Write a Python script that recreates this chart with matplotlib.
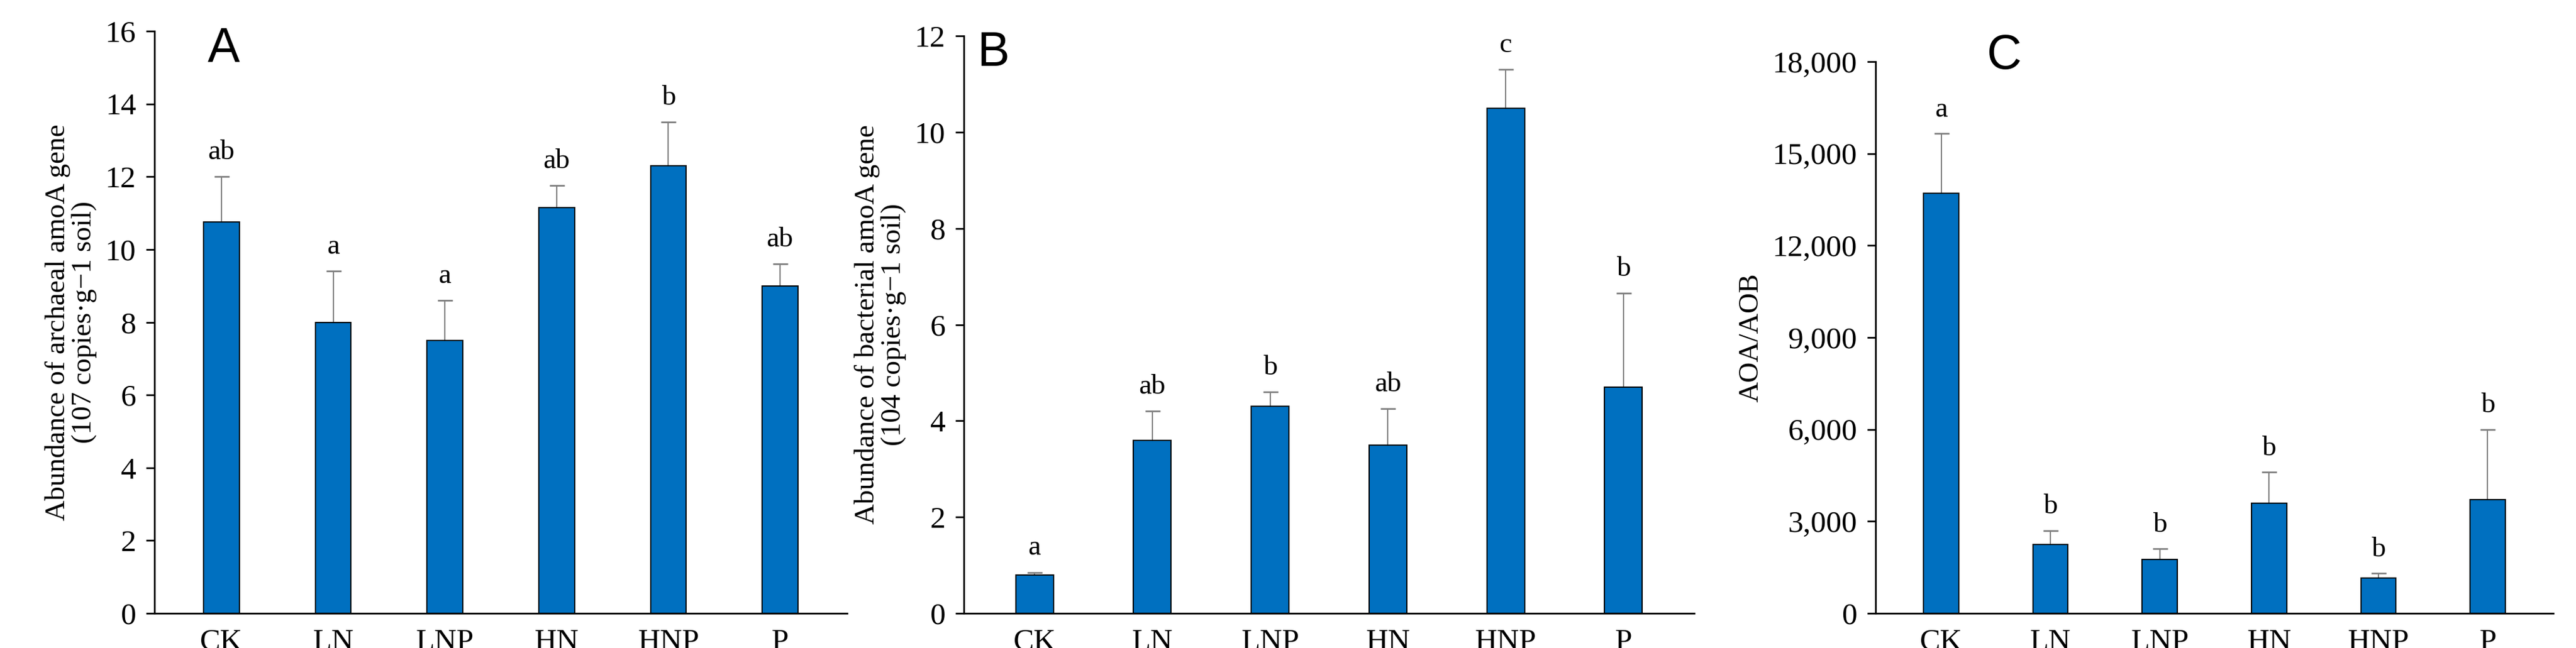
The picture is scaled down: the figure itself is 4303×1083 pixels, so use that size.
import matplotlib
matplotlib.use("Agg")
import matplotlib.pyplot as plt
from matplotlib.ticker import FuncFormatter

treatments = ["CK", "LN", "LNP", "HN", "HNP", "P"]

aoa_mean = [10.75, 8.0, 7.5, 11.15, 12.3, 9.0]
aoa_err = [1.25, 1.4, 1.1, 0.6, 1.2, 0.6]
aoa_sig = ["ab", "a", "a", "ab", "b", "ab"]

aob_mean = [0.8, 3.6, 4.3, 3.5, 10.5, 4.7]
aob_err = [0.05, 0.6, 0.3, 0.75, 0.8, 1.95]
aob_sig = ["a", "ab", "b", "ab", "c", "b"]

ratio_mean = [13700, 2250, 1750, 3600, 1150, 3700]
ratio_err = [1950, 450, 350, 1000, 150, 2300]
ratio_sig = ["a", "b", "b", "b", "b", "b"]

plt.rcParams["font.family"] = ["Liberation Serif", "DejaVu Serif"]
BLUE = "#0070C0"

W, H = 4303, 1083
fig = plt.figure(figsize=(W / 100, H / 100), dpi=100)

panels = [
    # left, right, top px, data, ylim, tick step, ylabel, letter, letter pos
    (258, 1415, 52, aoa_mean, aoa_err, aoa_sig, 16, 2,
     "Abundance of archaeal amoA gene\n(107 copies·g−1 soil)", "A", (0.10, 0.97)),
    (1610, 2830, 60, aob_mean, aob_err, aob_sig, 12, 2,
     "Abundance of bacterial amoA gene\n(104 copies·g−1 soil)", "B", (0.04, 0.97)),
    (3133, 4265, 103, ratio_mean, ratio_err, ratio_sig, 18000, 3000,
     "AOA/AOB", "C", (0.19, 1.01)),
]
bottom = 1025

for left, right, top, mean, err, sig, ymax, step, ylabel, letter, lpos in panels:
    ax = fig.add_axes([left / W, 1 - bottom / H, (right - left) / W, (bottom - top) / H])
    x = range(len(treatments))
    ax.bar(x, mean, width=0.32, color=BLUE, edgecolor="black", linewidth=1.5, zorder=2)
    ax.errorbar(x, mean, yerr=[[0] * len(err), err], fmt="none", ecolor="#7f7f7f",
                elinewidth=1.5, capsize=9, capthick=2, zorder=1)
    for xi, m, e, s in zip(x, mean, err, sig):
        ax.text(xi, m + e + ymax * 0.02, s, ha="center", va="bottom", fontsize=34)
    ax.set_xlim(-0.6, len(treatments) - 0.4)
    ax.set_ylim(0, ymax)
    ax.set_yticks(range(0, ymax + 1, step))
    if ymax > 100:
        ax.yaxis.set_major_formatter(FuncFormatter(lambda v, p: f"{int(v):,}"))
    ax.set_xticks(list(x))
    ax.set_xticklabels(treatments)
    ax.tick_params(axis="y", labelsize=37, width=2, length=10, pad=12)
    ax.tick_params(axis="x", labelsize=37, length=0, pad=18)
    for s in ["top", "right"]:
        ax.spines[s].set_visible(False)
    for s in ["left", "bottom"]:
        ax.spines[s].set_linewidth(2)
    ax.set_ylabel(ylabel, fontsize=34, linespacing=1.05, labelpad=10)
    ax.text(lpos[0], lpos[1], letter, transform=ax.transAxes, fontsize=58,
            family=["Liberation Sans", "DejaVu Sans"], va="center", ha="center")

fig.savefig("out.png", dpi=100)
